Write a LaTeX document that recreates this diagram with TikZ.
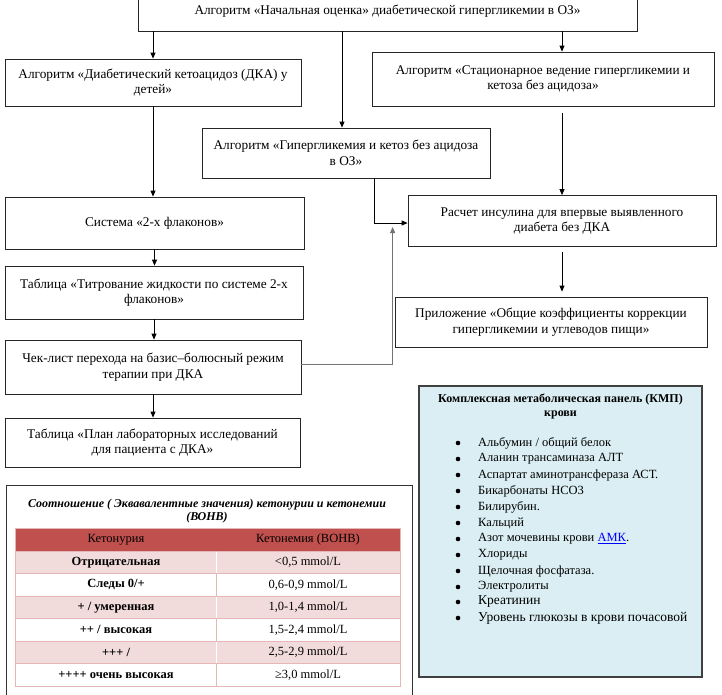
\documentclass[tikz,border=0pt]{standalone}
\usepackage{fontspec}
\setmainfont{Liberation Serif}
\usetikzlibrary{arrows.meta}
\definecolor{hdr}{HTML}{C0504D}
\definecolor{rowp}{HTML}{F2DBDB}
\definecolor{gridp}{HTML}{E5B8B7}
\definecolor{kmpfill}{HTML}{DAEEF3}
\definecolor{linkblue}{HTML}{0000FF}
\begin{document}
\begin{tikzpicture}[x=1pt,y=-1pt,
  fbox/.style={draw=black!85, line width=0.8pt, inner sep=0pt, align=center,
     font=\fontsize{13.3}{15.5}\selectfont},
  arr/.style={-{Triangle[length=6pt,width=5pt]}, line width=0.8pt, draw=black},
  garr/.style={-{Triangle[length=6pt,width=5pt]}, line width=0.8pt, draw=black!55},
  cell/.style={inner sep=0pt, font=\fontsize{12.5}{14}\selectfont},
  kitem/.style={inner sep=0pt, anchor=west, font=\fontsize{12.5}{14}\selectfont},
  kbul/.style={circle, fill=black, inner sep=0pt, minimum size=4.6pt}]
\useasboundingbox (0,0) rectangle (722,694);
\fill[white] (0,0) rectangle (722,694);

% flowchart boxes
\node[fbox, minimum width=499pt, minimum height=39pt] (top) at (387.5,11.5)
  {Алгоритм «Начальная оценка» диабетической гипергликемии в ОЗ»};
\node[fbox, minimum width=296pt, minimum height=47pt] (dka) at (153,82.5)
  {Алгоритм «Диабетический кетоацидоз (ДКА) у\\детей»};
\node[fbox, minimum width=342pt, minimum height=54pt] (stat) at (543,79)
  {Алгоритм «Стационарное ведение гипергликемии и\\кетоза без ацидоза»};
\node[fbox, minimum width=288pt, minimum height=50pt] (hyp) at (346,153)
  {Алгоритм «Гипергликемия и кетоз без ацидоза\\в ОЗ»};
\node[fbox, minimum width=299pt, minimum height=52pt] (sys) at (154.5,223)
  {Система «2-х флаконов»};
\node[fbox, minimum width=298pt, minimum height=53pt] (titr) at (154,292.5)
  {Таблица «Титрование жидкости по системе 2-х\\флаконов»};
\node[fbox, minimum width=296pt, minimum height=54pt] (check) at (153,367)
  {Чек-лист перехода на базис–болюсный режим\\терапии при ДКА};
\node[fbox, minimum width=295pt, minimum height=49pt] (lab) at (152.5,442.5)
  {Таблица «План лабораторных исследований\\для пациента с ДКА»};
\node[fbox, minimum width=308pt, minimum height=51pt] (calc) at (562,221)
  {Расчет инсулина для впервые выявленного\\диабета без ДКА};
\node[fbox, minimum width=312pt, minimum height=50pt] (app) at (551,322)
  {Приложение «Общие коэффициенты коррекции\\гипергликемии и углеводов пищи»};

% connectors
\draw[arr] (dka.north |- top.south) -- (dka.north);
\draw[arr] ([xshift=-4pt]hyp.north |- top.south) -- ([xshift=-4pt]hyp.north);
\draw[arr] (calc.north |- top.south) -- (calc.north |- stat.north);
\draw[arr] ([yshift=-7pt]stat.south -| calc.north) -- (calc.north);
\draw[arr] ([xshift=28pt]hyp.south) |- ([yshift=-2pt]calc.west);
\draw[arr] ([yshift=-5pt]calc.south) -- ([yshift=5pt]app.north -| calc.south);
\draw[arr] (dka.south) -- (dka.south |- sys.north);
\draw[arr] (sys.south) -- (sys.south |- titr.north);
\draw[arr] (titr.south) -- (titr.south |- check.north);
\draw[arr] (check.south) -- (check.south |- lab.north);
\draw[garr] ([yshift=3pt]check.east) -| ([xshift=-15pt,yshift=-6pt]calc.west);

% KMP panel
\node[draw=black!75, line width=1.2pt, fill=kmpfill, minimum width=283pt,
  minimum height=291pt, inner sep=0pt] (kmp) at (560.5,531.5) {};
\node[inner sep=0pt, align=center, font=\bfseries\fontsize{12}{14}\selectfont] (kmpt) at (560.5,406)
  {Комплексная метаболическая панель (КМП)\\крови};
\foreach \i/\y/\t in {1/443/{Альбумин / общий белок},
  2/459/{Аланин трансаминаза АЛТ},
  3/475/{Аспартат аминотрансфераза АСТ.},
  4/491/{Бикарбонаты НСО3},
  5/507/{Билирубин.},
  6/523/{Кальций},
  7/539/{Азот мочевины крови \textcolor{linkblue}{\underline{АМК}}.},
  8/555/{Хлориды},
  9/571/{Щелочная фосфатаза.},
  10/587/{Электролиты}}{
  \node[kbul] (kb\i) at (458,\y) {};
  \node[kitem] (k\i) at (478,\y) {\t};
}
\node[kbul] (kb11) at (458,602) {};
\node[kitem, font=\fontsize{13.5}{15}\selectfont] (k11) at (478,602) {Креатинин};
\node[kbul] (kb12) at (458,618) {};
\node[kitem, font=\fontsize{13.5}{15}\selectfont] (k12) at (478,618) {Уровень глюкозы в крови почасовой};

% ketone table
\node[draw=black!80, line width=0.8pt, minimum width=406pt, minimum height=215pt, inner sep=0pt]
  (frame) at (209,592.5) {};
\node[inner sep=0pt, align=center, font=\bfseries\itshape\fontsize{12}{13}\selectfont] (tt) at (207,511.5)
  {Соотношение ( Эквавалентные значения) кетонурии и кетонемии\\(ВОНВ)};
\fill[hdr] (15,528) rectangle (400,551);
\foreach \r in {1,3,5}{
  \fill[rowp] (15,{551+22.5*(\r-1)}) rectangle (400,{551+22.5*\r});
}
\foreach \r in {0,...,6}{
  \draw[gridp, line width=0.7pt] (15,{551+22.5*\r}) -- (400,{551+22.5*\r});
}
\draw[gridp, line width=0.7pt] (15,528) rectangle (400,686);
\draw[gridp, line width=0.7pt] (216,551) -- (216,686);
\foreach \r in {1,3,5}{
  \draw[white, line width=0.9pt] (216,{551+22.5*(\r-1)+0.5}) -- (216,{551+22.5*\r-0.5});
}
\node[cell] (h1) at (116,539.5) {Кетонурия};
\node[cell] (h2) at (308,539.5) {Кетонемия (ВОНВ)};
\foreach \i/\a/\b in {1/{Отрицательная}/{<0,5 mmol/L},
  2/{Следы 0/+}/{0,6-0,9 mmol/L},
  3/{+ / умеренная}/{1,0-1,4 mmol/L},
  4/{++ / высокая}/{1,5-2,4 mmol/L},
  5/{+++ /}/{2,5-2,9 mmol/L},
  6/{++++ очень высокая}/{≥3,0 mmol/L}}{
  \node[cell, font=\bfseries\fontsize{12.5}{14}\selectfont] (l\i) at (116,{551+22.5*(\i-0.5)}) {\a};
  \node[cell] (r\i) at (308,{551+22.5*(\i-0.5)}) {\b};
}
\end{tikzpicture}
\end{document}
